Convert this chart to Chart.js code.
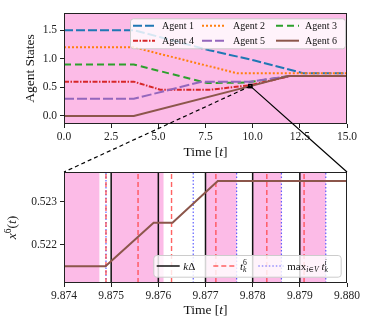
<!DOCTYPE html>
<html>
<head>
<meta charset="utf-8">
<script src="https://cdn.jsdelivr.net/npm/chart.js@4.4.1/dist/chart.umd.min.js"></script>
<style>
  html, body { margin: 0; padding: 0; background: #fff; }
  #wrap { position: relative; width: 374px; height: 331px; }
  #topChart { position: absolute; left: 0; top: 0; }
  #zoomChart { position: absolute; left: 0; top: 160px; }
  #overlay { position: absolute; left: 0; top: 0; pointer-events: none; }
</style>
</head>
<body>
<div id="wrap">
  <canvas id="topChart" width="374" height="160"></canvas>
  <canvas id="zoomChart" width="374" height="171"></canvas>
  <canvas id="overlay" width="374" height="331"></canvas>
</div>
<script>
// --- agent trajectories (breakpoints) ---
const agentNames = ["Agent 1", "Agent 2", "Agent 3", "Agent 4", "Agent 5", "Agent 6"];
const agent1T = [0, 3.7, 7.7, 10.1, 12.7, 15];
const agent1Y = [1.5, 1.5, 1.15, 0.97, 0.745, 0.745];
const agent2T = [0, 3.7, 9.2, 15];
const agent2Y = [1.2, 1.2, 0.745, 0.745];
const agent3T = [0, 3.7, 7.6, 9.6, 10.2, 12, 15];
const agent3Y = [0.9, 0.9, 0.575, 0.585, 0.61, 0.70, 0.70];
const agent4T = [0, 3.7, 5.1, 7.8, 9.9, 12, 15];
const agent4Y = [0.6, 0.6, 0.46, 0.46, 0.54, 0.70, 0.70];
const agent5T = [0, 3.7, 7.3, 9.9, 12, 15];
const agent5Y = [0.3, 0.3, 0.6, 0.6, 0.70, 0.70];
const agent6T = [0, 3.7, 9.88, 11.9, 15];
const agent6Y = [0, 0, 0.522, 0.70, 0.70];
const topXTicks = [0, 2.5, 5, 7.5, 10, 12.5, 15];
const topYTicks = [0, 0.5, 1, 1.5];

// --- zoomed window around t = 9.874 .. 9.880 ---
const zoomT = [9.874, 9.87488, 9.8759, 9.8763, 9.87726, 9.880];
const zoomX6 = [0.52149, 0.52149, 0.52251, 0.52251, 0.52349, 0.52349];
const stepTimes = [9.875, 9.876, 9.877, 9.878, 9.879];
const eventTimes6 = [9.87489, 9.87557, 9.87628, 9.87722, 9.87830, 9.87909];
const eventTimesMax = [9.87489, 9.87674, 9.87766, 9.87861, 9.87955];
const spanStarts = [9.873, 9.875, 9.877, 9.878, 9.879];
const spanEnds = [9.87475, 9.87611, 9.87766, 9.87861, 9.87955];
const zoomXTicks = [9.874, 9.875, 9.876, 9.877, 9.878, 9.879, 9.880];
const zoomYTicks = [0.522, 0.523];
const zoomXRange = [9.874, 9.880];
const zoomYRange = [0.5211, 0.5237];

const SERIF = "'Liberation Serif', 'DejaVu Serif', serif";
const PINK = "#fcbbe7";

// small helper for math-ish labels: [text, style, pos] pos 1=sup, -1=sub, 2=sub under previous sup
function layoutRuns(ctx, runs, size) {
  let x = 0, supStart = 0;
  const items = [];
  runs.forEach(([text, style, pos = 0]) => {
    const fs = pos ? size * 0.7 : size;
    const font = (style === "i" ? "italic " : "") + fs + "px " + SERIF;
    ctx.font = font;
    const w = ctx.measureText(text).width;
    let x0 = x;
    if (pos === 1) supStart = x;
    if (pos === 2) x0 = supStart;
    const dy = pos === 1 ? -size * 0.38 : (pos ? size * 0.22 : 0);
    items.push({ text, font, x: x0, dy });
    x = pos === 2 ? Math.max(x, x0 + w) : x0 + w;
  });
  return { items, width: x };
}

function drawRuns(ctx, runs, x, cy, size, align, rotate) {
  const lay = layoutRuns(ctx, runs, size);
  ctx.save();
  ctx.translate(x, cy);
  if (rotate) ctx.rotate(-Math.PI / 2);
  const start = align === "center" ? -lay.width / 2 : 0;
  ctx.fillStyle = "#111";
  ctx.textBaseline = "alphabetic";
  ctx.textAlign = "left";
  lay.items.forEach(it => {
    ctx.font = it.font;
    ctx.fillText(it.text, start + it.x, size * 0.33 + it.dy);
  });
  ctx.restore();
}

const figPlugin = {
  id: "fig",
  beforeDatasetsDraw(chart, args, opts) {
    const { ctx, chartArea: a, scales: { x } } = chart;
    ctx.save();
    ctx.beginPath();
    ctx.rect(a.left, a.top, a.width, a.height);
    ctx.clip();
    ctx.fillStyle = PINK;
    if (opts.fullPink) {
      ctx.fillRect(a.left, a.top, a.width, a.height);
    } else {
      (opts.starts || []).forEach((s, i) => {
        const x0 = x.getPixelForValue(s), x1 = x.getPixelForValue(opts.ends[i]);
        ctx.fillRect(x0, a.top, x1 - x0, a.height);
      });
    }
    ctx.restore();
  },
  afterDraw(chart, args, opts) {
    const { ctx, chartArea: a } = chart;
    ctx.save();
    ctx.strokeStyle = "#222";
    ctx.lineWidth = 1;
    ctx.strokeRect(Math.round(a.left) + 0.5, Math.round(a.top) + 0.5,
                   Math.round(a.width) - 1, Math.round(a.height) - 1);
    ctx.restore();

    // axis titles
    drawRuns(ctx, opts.xTitle, (a.left + a.right) / 2, opts.xTitleY, 13.5, "center", false);
    drawRuns(ctx, opts.yTitle, opts.yTitleX, (a.top + a.bottom) / 2, 13.5, "center", true);

    // legend inside the axes
    const lg = opts.legend;
    const bx = a.right - lg.dx - lg.w;
    const by = lg.fromTop ? a.top + lg.dy : a.bottom - lg.dy - lg.h;
    ctx.save();
    ctx.beginPath();
    ctx.roundRect(bx + 0.5, by + 0.5, lg.w, lg.h, 3);
    ctx.fillStyle = "rgba(255,255,255,0.82)";
    ctx.fill();
    ctx.strokeStyle = "#cccccc";
    ctx.lineWidth = 1;
    ctx.stroke();
    lg.entries.forEach(e => {
      const ds = chart.data.datasets[e.ds];
      ctx.save();
      ctx.strokeStyle = ds.borderColor;
      ctx.lineWidth = ds.borderWidth;
      ctx.setLineDash(ds.borderDash || []);
      ctx.beginPath();
      ctx.moveTo(bx + e.lx, by + e.y);
      ctx.lineTo(bx + e.lx + e.len, by + e.y);
      ctx.stroke();
      ctx.restore();
      drawRuns(ctx, e.text, bx + e.tx, by + e.y, lg.size, "left", false);
    });
    ctx.restore();
  }
};

function pts(ts, ys) { return ts.map((t, i) => ({ x: t, y: ys[i] })); }

function vlines(vals, lo, hi) {
  const out = [];
  vals.forEach(v => { out.push({ x: v, y: lo }, { x: v, y: hi }, { x: v, y: null }); });
  return out;
}

const tickFont = { family: SERIF, size: 11.5 };
const gridOpts = { drawOnChartArea: false, drawTicks: true, tickLength: 4, color: "#222", lineWidth: 1 };

// ----- top chart: all agents -----
const agentT = [agent1T, agent2T, agent3T, agent4T, agent5T, agent6T];
const agentY = [agent1Y, agent2Y, agent3Y, agent4Y, agent5Y, agent6Y];
const agentColors = ["#1f77b4", "#ff7f0e", "#2ca02c", "#d62728", "#9467bd", "#8c564b"];
const agentDash = [[9, 3], [2, 2], [7, 4], [5, 1.5, 1.5, 1.5], [10, 3], []];

const topChart = new Chart(document.getElementById("topChart"), {
  type: "line",
  data: {
    datasets: agentNames.map((name, i) => ({
      label: name,
      data: pts(agentT[i], agentY[i]),
      borderColor: agentColors[i],
      borderDash: agentDash[i],
      borderWidth: 2,
      pointRadius: 0,
      tension: 0,
      order: agentNames.length - i
    }))
  },
  options: {
    responsive: false,
    animation: false,
    events: [],
    layout: { padding: { top: 13, right: 27, left: 0, bottom: 0 } },
    scales: {
      x: {
        type: "linear", min: 0, max: 15,
        afterBuildTicks: s => { s.ticks = topXTicks.map(v => ({ value: v })); },
        afterFit: s => { s.height = 36; },
        ticks: { font: tickFont, color: "#222", padding: 2, maxRotation: 0, callback: v => v.toFixed(1) },
        grid: gridOpts, border: { display: false }
      },
      y: {
        type: "linear", min: -0.14, max: 1.8,
        afterBuildTicks: s => { s.ticks = topYTicks.map(v => ({ value: v })); },
        afterFit: s => { s.width = 64; },
        ticks: { font: tickFont, color: "#222", padding: 3, callback: v => v.toFixed(1) },
        grid: gridOpts, border: { display: false }
      }
    },
    plugins: {
      legend: { display: false },
      tooltip: { enabled: false },
      fig: {
        fullPink: true,
        xTitle: [["Time [", "n"], ["t", "i"], ["]", "n"]],
        xTitleY: 151.5,
        yTitle: [["Agent States", "n"]],
        yTitleX: 30,
        legend: {
          fromTop: true, dx: 2, dy: 5.3, w: 215, h: 30, size: 10,
          entries: [
            { ds: 0, lx: 3, len: 22, tx: 32, y: 7.4, text: [["Agent 1", "n"]] },
            { ds: 1, lx: 72, len: 22, tx: 103, y: 7.4, text: [["Agent 2", "n"]] },
            { ds: 2, lx: 146, len: 23, tx: 175, y: 7.4, text: [["Agent 3", "n"]] },
            { ds: 3, lx: 3, len: 22, tx: 32, y: 22.4, text: [["Agent 4", "n"]] },
            { ds: 4, lx: 72, len: 22, tx: 103, y: 22.4, text: [["Agent 5", "n"]] },
            { ds: 5, lx: 146, len: 23, tx: 175, y: 22.4, text: [["Agent 6", "n"]] }
          ]
        }
      }
    }
  },
  plugins: [figPlugin]
});

// ----- bottom chart: zoom on agent 6 -----
const zoomChart = new Chart(document.getElementById("zoomChart"), {
  type: "line",
  data: {
    datasets: [
      { label: "x6", data: pts(zoomT, zoomX6), borderColor: "#8c564b", borderWidth: 2, pointRadius: 0 },
      { label: "kΔ", data: vlines(stepTimes, zoomYRange[0], zoomYRange[1]), borderColor: "#111", borderWidth: 1.5, pointRadius: 0 },
      { label: "t_k^6", data: vlines(eventTimes6, zoomYRange[0], zoomYRange[1]), borderColor: "rgba(255,60,60,0.8)", borderDash: [5, 3], borderWidth: 1.4, pointRadius: 0 },
      { label: "max t_k^i", data: vlines(eventTimesMax, zoomYRange[0], zoomYRange[1]), borderColor: "rgba(70,70,255,0.85)", borderDash: [1.5, 2], borderWidth: 1.2, pointRadius: 0 }
    ]
  },
  options: {
    responsive: false,
    animation: false,
    events: [],
    layout: { padding: { top: 12, right: 27, left: 0, bottom: 0 } },
    scales: {
      x: {
        type: "linear", min: zoomXRange[0], max: zoomXRange[1],
        afterBuildTicks: s => { s.ticks = zoomXTicks.map(v => ({ value: v })); },
        afterFit: s => { s.height = 48; },
        ticks: { font: tickFont, color: "#222", padding: 2, maxRotation: 0, callback: v => v.toFixed(3) },
        grid: gridOpts, border: { display: false }
      },
      y: {
        type: "linear", min: zoomYRange[0], max: zoomYRange[1],
        afterBuildTicks: s => { s.ticks = zoomYTicks.map(v => ({ value: v })); },
        afterFit: s => { s.width = 64; },
        ticks: { font: tickFont, color: "#222", padding: 3, callback: v => v.toFixed(3) },
        grid: gridOpts, border: { display: false }
      }
    },
    plugins: {
      legend: { display: false },
      tooltip: { enabled: false },
      fig: {
        starts: spanStarts, ends: spanEnds,
        xTitle: [["Time [", "n"], ["t", "i"], ["]", "n"]],
        xTitleY: 150,
        yTitle: [["x", "i"], ["6", "n", 1], ["(", "n"], ["t", "i"], [")", "n"]],
        yTitleX: 12,
        legend: {
          fromTop: false, dx: 6.3, dy: 6.3, w: 187.4, h: 21.7, size: 11,
          entries: [
            { ds: 1, lx: 3.4, len: 23, tx: 30, y: 11, text: [["k", "i"], ["Δ", "n"]] },
            { ds: 2, lx: 60, len: 23, tx: 86.7, y: 11, text: [["t", "i"], ["6", "n", 1], ["k", "i", 2]] },
            { ds: 3, lx: 105, len: 25, tx: 134, y: 11, text: [["max", "n"], ["i", "i", -1], ["∈", "n", -1], ["V", "i", -1], [" ", "n"], ["t", "i"], ["i", "i", 1], ["k", "i", 2]] }
          ]
        }
      }
    }
  },
  plugins: [figPlugin]
});

// ----- connector lines between the zoom box and the inset -----
(function drawConnectors() {
  const ctx = document.getElementById("overlay").getContext("2d");
  const tx = topChart.scales.x, ty = topChart.scales.y;
  const x0 = tx.getPixelForValue(zoomXRange[0]), x1 = tx.getPixelForValue(zoomXRange[1]);
  const y0 = ty.getPixelForValue(zoomYRange[0]), y1 = ty.getPixelForValue(zoomYRange[1]);
  const za = zoomChart.chartArea;
  const off = 160;
  ctx.strokeStyle = "#000";
  ctx.lineWidth = 1.5;
  ctx.strokeRect(x0 - 1.5, y1 - 1.5, (x1 - x0) + 3, (y0 - y1) + 3);
  ctx.lineWidth = 1.2;
  ctx.setLineDash([4, 3]);
  ctx.beginPath();
  ctx.moveTo(x0, y0);
  ctx.lineTo(za.left, za.top + off);
  ctx.stroke();
  ctx.setLineDash([]);
  ctx.beginPath();
  ctx.moveTo(x1, y0);
  ctx.lineTo(za.right, za.top + off);
  ctx.stroke();
})();
</script>
</body>
</html>
